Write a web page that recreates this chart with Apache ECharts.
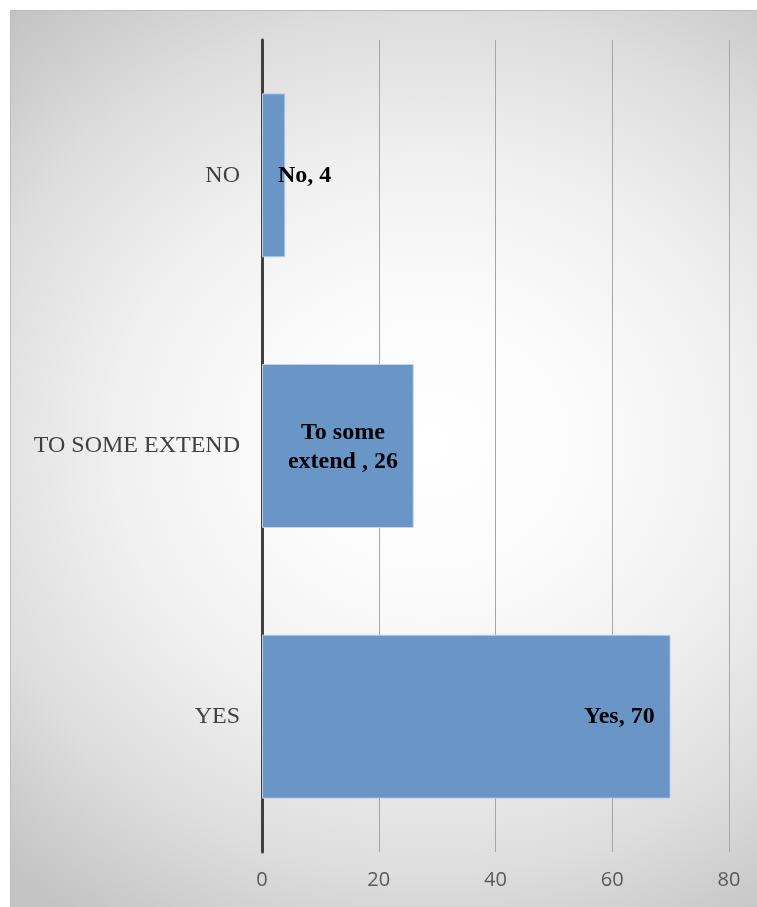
<!DOCTYPE html>
<html><head><meta charset="utf-8">
<script src="https://cdn.jsdelivr.net/npm/echarts@6/dist/echarts.min.js"></script>
<style>html,body{margin:0;padding:0;background:#fff}#c{width:757px;height:907px}</style>
</head><body><div id="c"></div>
<script>
const categories = ['YES', 'TO SOME EXTEND', 'NO'];
const labelNames = ['Yes', 'To some\nextend ', 'No'];
const values = [70, 26, 4];
const xTicks = [0, 20, 40, 60, 80];

const chart = echarts.init(document.getElementById('c'), null, {renderer: 'canvas'});
const labelPos = [
  {position: 'insideRight', distance: 16, align: 'right'},
  {position: 'inside', offset: [5, 1], align: 'center'},
  {position: 'insideLeft', distance: 16, align: 'left'}
];
const data = values.map((v, i) => ({
  value: v,
  label: Object.assign({show: true, formatter: labelNames[i] + ', ' + v}, labelPos[i])
}));

// elliptical background gradient (scaled circle)
const cx = 430, cy = 445, sy = 0.907, R = 632;
const ly = Y => cy + (Y - cy) / sy;

chart.setOption({
  animation: false,
  graphic: [{
    type: 'rect', z: -10, silent: true,
    x: 0, y: 0, scaleY: sy, originX: cx, originY: cy,
    shape: {x: 10, y: ly(10), width: 760, height: ly(920) - ly(10)},
    style: {
      fill: new echarts.graphic.RadialGradient(cx, cy, R, [
        {offset: 0, color: '#ffffff'},
        {offset: 0.25, color: '#fbfbfb'},
        {offset: 0.5, color: '#f0f0f0'},
        {offset: 0.75, color: '#dddddd'},
        {offset: 1, color: '#c3c3c3'}
      ], true)
    }
  }, {
    type: 'polyline', z: -9, silent: true,
    shape: {points: [[10.5, 907], [10.5, 10.5], [757, 10.5]]},
    style: {stroke: '#bdbdbd', lineWidth: 1, fill: null}
  }],
  grid: {left: 262, right: 28, top: 40, bottom: 55, containLabel: false},
  xAxis: {
    type: 'value', min: xTicks[0], max: xTicks[xTicks.length - 1], interval: 20,
    axisLine: {show: false}, axisTick: {show: false},
    splitLine: {show: true, lineStyle: {color: '#a6a6a6', width: 1}},
    axisLabel: {color: '#595959', fontFamily: 'Open Sans', fontSize: 20, margin: 18}
  },
  yAxis: {
    type: 'category', data: categories,
    axisLine: {show: true, lineStyle: {color: '#404040', width: 3}},
    axisTick: {show: false},
    axisLabel: {color: '#404040', fontFamily: 'Liberation Serif', fontSize: 24, margin: 22}
  },
  series: [{
    type: 'bar', data: data, barWidth: '60.6%',
    itemStyle: {color: '#6995c7', borderColor: 'rgba(200,215,235,0.9)', borderWidth: 1},
    label: {color: '#000', fontFamily: 'Liberation Serif', fontWeight: 'bold', fontSize: 24, lineHeight: 29}
  }]
});
</script></body></html>
